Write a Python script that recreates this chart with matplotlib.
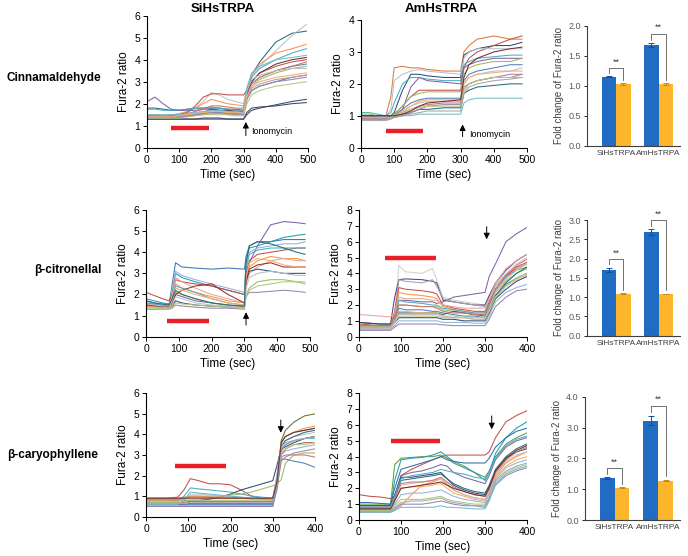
import numpy as np
import matplotlib.pyplot as plt

plt.rcParams['font.family'] = ['Liberation Sans', 'DejaVu Sans']
NARROW = ['Liberation Sans Narrow', 'Liberation Sans', 'DejaVu Sans']

W, H = 688, 556

# ---------------- trace data (Fura-2 ratio) ----------------
# Cinnamaldehyde / SiHsTRPA
t_cin_si = [0, 25, 50, 75, 100, 125, 150, 175, 200, 225, 250, 275, 300, 310, 325, 350, 400, 450, 495]
cin_si = [
    [1.8, 1.8, 1.75, 1.7, 1.7, 1.75, 1.8, 1.8, 1.8, 1.8, 1.75, 1.75, 1.7, 2.6, 3.3, 3.9, 4.8, 5.2, 5.3],
    [1.45, 1.45, 1.45, 1.45, 1.5, 1.6, 1.8, 2.1, 2.5, 2.4, 2.2, 2.1, 2.0, 2.7, 3.3, 3.7, 4.4, 5.1, 5.6],
    [1.5, 1.5, 1.5, 1.5, 1.55, 1.65, 1.8, 2.0, 2.2, 2.1, 2.0, 1.95, 1.9, 2.6, 3.3, 3.8, 4.3, 4.5, 4.7],
    [1.45, 1.45, 1.4, 1.45, 1.5, 1.6, 1.9, 2.3, 2.45, 2.45, 2.4, 2.4, 2.4, 2.6, 3.0, 3.4, 3.7, 3.9, 4.0],
    [1.75, 1.75, 1.7, 1.7, 1.7, 1.75, 1.8, 1.8, 1.85, 1.8, 1.75, 1.7, 1.7, 2.5, 3.2, 3.6, 4.0, 4.3, 4.5],
    [2.1, 2.3, 2.0, 1.75, 1.7, 1.7, 1.7, 1.75, 1.75, 1.7, 1.7, 1.65, 1.65, 2.2, 2.6, 2.8, 3.0, 3.2, 3.3],
    [1.4, 1.4, 1.4, 1.4, 1.45, 1.5, 1.55, 1.6, 1.65, 1.6, 1.6, 1.55, 1.55, 2.3, 2.9, 3.2, 3.5, 3.7, 3.8],
    [1.35, 1.35, 1.35, 1.35, 1.4, 1.45, 1.5, 1.55, 1.6, 1.55, 1.55, 1.5, 1.5, 2.2, 2.8, 3.1, 3.4, 3.6, 3.7],
    [1.35, 1.35, 1.35, 1.35, 1.4, 1.45, 1.5, 1.6, 1.75, 1.7, 1.7, 1.65, 1.6, 2.4, 3.0, 3.4, 3.8, 4.0, 4.1],
    [1.3, 1.3, 1.3, 1.3, 1.3, 1.3, 1.3, 1.3, 1.3, 1.3, 1.3, 1.3, 1.3, 1.5, 1.7, 1.8, 1.95, 2.1, 2.2],
    [1.3, 1.3, 1.3, 1.3, 1.3, 1.3, 1.3, 1.35, 1.35, 1.35, 1.3, 1.3, 1.3, 1.6, 1.8, 1.85, 1.9, 2.0, 2.05],
    [1.45, 1.45, 1.45, 1.45, 1.5, 1.55, 1.65, 1.75, 1.9, 1.9, 1.85, 1.8, 1.8, 2.4, 2.9, 3.2, 3.5, 3.7, 3.9],
    [1.4, 1.4, 1.4, 1.4, 1.45, 1.5, 1.55, 1.6, 1.65, 1.65, 1.6, 1.6, 1.6, 2.6, 3.1, 3.3, 3.5, 3.6, 3.6],
    [1.35, 1.35, 1.35, 1.35, 1.4, 1.45, 1.5, 1.5, 1.55, 1.55, 1.5, 1.5, 1.5, 2.3, 2.7, 2.9, 3.1, 3.2, 3.3],
    [1.35, 1.35, 1.35, 1.35, 1.35, 1.4, 1.45, 1.5, 1.5, 1.5, 1.5, 1.45, 1.45, 2.0, 2.4, 2.6, 2.8, 2.9, 3.0],
    [1.4, 1.4, 1.4, 1.4, 1.4, 1.45, 1.5, 1.55, 1.6, 1.6, 1.55, 1.55, 1.5, 2.2, 2.6, 2.8, 3.0, 3.1, 3.2],
    [1.5, 1.5, 1.5, 1.5, 1.5, 1.55, 1.6, 1.65, 1.7, 1.7, 1.65, 1.65, 1.6, 2.7, 3.4, 3.7, 4.0, 4.1, 4.2],
    [1.4, 1.4, 1.4, 1.4, 1.45, 1.5, 1.55, 1.6, 1.65, 1.65, 1.6, 1.6, 1.55, 2.3, 2.8, 3.0, 3.2, 3.3, 3.4],
]
cin_si_colors = ['#276A7C', '#B7C3CF', '#F79646', '#C0504D', '#4BACC6', '#8064A2', '#4F81BD', '#9BBB59',
                 '#772C2A', '#2C4D75', '#4D3B62', '#CD7371', '#BFBFBF', '#A5A5A5', '#AFC97A', '#9983B5',
                 '#6FBDD1', '#F9AB6B']

# Cinnamaldehyde / AmHsTRPA
t_cin_am = [0, 25, 50, 75, 90, 100, 125, 150, 175, 200, 250, 300, 310, 325, 350, 400, 450, 485]
cin_am = [
    [1.0, 1.0, 1.0, 1.0, 1.6, 2.5, 2.55, 2.5, 2.5, 2.45, 2.4, 2.4, 3.0, 3.2, 3.4, 3.5, 3.4, 3.4],
    [1.0, 1.0, 0.95, 0.95, 1.0, 1.1, 1.8, 2.3, 2.3, 2.25, 2.2, 2.2, 2.9, 3.0, 3.1, 3.2, 3.2, 3.3],
    [0.95, 0.95, 0.95, 0.95, 1.0, 1.05, 1.3, 1.6, 1.8, 1.8, 1.8, 1.8, 2.5, 2.8, 3.0, 3.2, 3.4, 3.5],
    [1.0, 1.0, 1.0, 1.0, 1.2, 2.1, 2.3, 2.4, 2.45, 2.4, 2.35, 2.3, 2.8, 3.0, 3.1, 3.1, 3.1, 3.1],
    [1.1, 1.1, 1.05, 1.0, 1.1, 1.4, 2.0, 2.2, 2.2, 2.15, 2.1, 2.1, 2.6, 2.7, 2.8, 2.85, 2.9, 2.9],
    [0.95, 0.95, 0.95, 0.95, 1.0, 1.0, 1.2, 1.9, 2.2, 2.1, 2.05, 2.0, 2.5, 2.6, 2.7, 2.8, 2.8, 2.8],
    [1.05, 1.05, 1.0, 1.0, 1.0, 1.05, 1.3, 1.6, 1.7, 1.75, 1.75, 1.75, 2.3, 2.5, 2.6, 2.7, 2.7, 2.8],
    [0.9, 0.9, 0.9, 0.9, 0.95, 1.0, 1.2, 1.4, 1.5, 1.55, 1.55, 1.55, 2.1, 2.3, 2.4, 2.5, 2.6, 2.6],
    [0.95, 0.95, 0.95, 0.95, 0.95, 1.0, 1.1, 1.3, 1.4, 1.45, 1.45, 1.45, 2.0, 2.2, 2.3, 2.4, 2.4, 2.5],
    [0.9, 0.9, 0.9, 0.9, 0.95, 1.0, 1.15, 1.3, 1.45, 1.5, 1.5, 1.5, 2.0, 2.2, 2.3, 2.35, 2.4, 2.4],
    [0.9, 0.9, 0.9, 0.9, 0.95, 1.0, 1.1, 1.2, 1.3, 1.35, 1.4, 1.4, 1.9, 2.0, 2.1, 2.2, 2.2, 2.3],
    [1.0, 1.0, 1.0, 1.0, 1.0, 1.0, 1.05, 1.1, 1.2, 1.2, 1.25, 1.25, 1.7, 1.8, 1.9, 1.95, 2.0, 2.0],
    [0.95, 0.95, 0.95, 0.95, 0.95, 0.95, 1.0, 1.0, 1.05, 1.05, 1.05, 1.05, 1.4, 1.5, 1.55, 1.55, 1.55, 1.55],
    [0.9, 0.9, 0.9, 0.9, 0.9, 0.95, 1.0, 1.1, 1.2, 1.3, 1.35, 1.35, 1.8, 2.0, 2.1, 2.2, 2.3, 2.3],
    [0.95, 0.95, 0.95, 0.95, 0.95, 1.0, 1.1, 1.2, 1.25, 1.3, 1.3, 1.3, 1.8, 2.0, 2.1, 2.2, 2.2, 2.2],
    [0.85, 0.85, 0.85, 0.85, 0.9, 0.95, 1.0, 1.05, 1.1, 1.15, 1.15, 1.15, 1.7, 1.9, 2.0, 2.1, 2.15, 2.2],
    [1.0, 1.0, 1.0, 1.0, 1.0, 1.0, 1.05, 1.15, 1.3, 1.4, 1.45, 1.5, 2.2, 2.6, 2.8, 3.0, 3.1, 3.15],
]
cin_am_colors = ['#E07B39', '#2C4D75', '#C0504D', '#B7C3CF', '#4BACC6', '#8064A2', '#9BBB59', '#4F81BD',
                 '#BFBFBF', '#F9AB6B', '#CD7371', '#276A7C', '#6FBDD1', '#9983B5', '#AFC97A', '#A5A5A5',
                 '#772C2A']

# beta-citronellal / SiHsTRPA
t_cit_si = [0, 25, 50, 70, 80, 90, 110, 150, 200, 250, 300, 305, 315, 340, 380, 420, 460, 485]
cit_si = [
    [1.7, 1.6, 1.5, 1.45, 2.5, 3.5, 3.3, 3.25, 3.2, 3.25, 3.2, 3.8, 4.3, 4.5, 4.5, 4.6, 4.6, 4.6],
    [1.5, 1.45, 1.4, 1.4, 1.6, 2.0, 1.9, 1.7, 1.6, 1.5, 1.45, 2.5, 3.5, 4.3, 5.3, 5.45, 5.4, 5.35],
    [1.8, 1.7, 1.6, 1.55, 2.2, 3.0, 2.8, 2.6, 2.4, 2.2, 2.0, 3.6, 4.2, 4.3, 4.5, 4.7, 4.8, 4.85],
    [1.6, 1.55, 1.5, 1.45, 2.3, 3.1, 2.9, 2.7, 2.5, 2.3, 2.1, 3.4, 4.0, 4.2, 4.3, 4.4, 4.4, 4.5],
    [2.1, 1.95, 1.8, 1.7, 2.0, 2.7, 2.6, 2.5, 2.4, 2.2, 2.0, 3.0, 3.6, 3.9, 4.0, 4.1, 4.2, 4.2],
    [1.5, 1.45, 1.4, 1.4, 1.8, 2.5, 2.3, 2.1, 1.9, 1.7, 1.6, 2.6, 3.3, 3.6, 3.8, 3.7, 3.7, 3.6],
    [1.55, 1.5, 1.45, 1.4, 1.9, 2.8, 2.6, 2.3, 2.0, 1.8, 1.6, 2.5, 3.0, 3.3, 3.6, 3.7, 3.6, 3.6],
    [1.4, 1.4, 1.35, 1.35, 1.5, 2.1, 2.0, 1.8, 1.6, 1.5, 1.4, 2.0, 2.3, 2.6, 2.7, 2.7, 2.6, 2.5],
    [1.45, 1.4, 1.4, 1.35, 1.45, 1.7, 1.6, 1.5, 1.45, 1.4, 1.4, 2.6, 3.1, 3.2, 3.1, 3.0, 3.0, 3.0],
    [1.5, 1.45, 1.4, 1.4, 1.6, 2.0, 2.2, 2.4, 2.5, 2.0, 1.6, 2.7, 3.2, 3.4, 3.5, 3.3, 3.3, 3.3],
    [1.3, 1.3, 1.3, 1.3, 1.35, 1.5, 1.45, 1.4, 1.35, 1.35, 1.3, 1.9, 2.1, 2.1, 2.15, 2.2, 2.15, 2.1],
    [1.6, 1.55, 1.5, 1.45, 1.8, 2.4, 2.3, 2.1, 1.8, 1.6, 1.5, 3.2, 3.9, 4.1, 4.2, 4.2, 4.2, 4.2],
    [1.4, 1.4, 1.35, 1.35, 1.5, 1.9, 1.8, 1.6, 1.5, 1.45, 1.4, 2.3, 2.8, 3.0, 3.1, 3.0, 2.9, 2.9],
    [1.35, 1.35, 1.3, 1.3, 1.4, 1.6, 1.55, 1.5, 1.45, 1.4, 1.35, 1.9, 2.2, 2.4, 2.5, 2.6, 2.6, 2.6],
    [1.45, 1.4, 1.4, 1.35, 1.7, 2.3, 2.2, 2.0, 1.8, 1.6, 1.5, 2.8, 3.5, 3.7, 3.6, 3.4, 3.3, 3.3],
    [1.7, 1.6, 1.55, 1.5, 1.8, 2.2, 2.0, 1.8, 1.6, 1.5, 1.45, 3.5, 4.3, 4.5, 4.4, 4.2, 4.0, 3.9],
]
cit_si_colors = ['#3A78B8', '#7F5FA8', '#1F9CB8', '#95B3D7', '#C0504D', '#F79646', '#E6A49B', '#9BBB59',
                 '#2C4D75', '#9B2D2A', '#9983B5', '#4BACC6', '#BFBFBF', '#AFC97A', '#F9AB6B', '#276A7C']

# beta-citronellal / AmHsTRPA
t_cit_am = [0, 25, 50, 75, 85, 95, 110, 150, 175, 185, 200, 225, 250, 275, 300, 310, 325, 350, 375, 400]
cit_am = [
    [0.6, 0.6, 0.6, 0.6, 1.5, 4.5, 4.1, 4.0, 4.3, 3.6, 2.5, 2.3, 2.2, 2.1, 2.0, 2.5, 3.3, 4.0, 4.6, 5.0],
    [0.9, 0.85, 0.8, 0.8, 2.5, 3.6, 3.65, 3.6, 3.5, 3.4, 2.3, 2.2, 2.1, 2.0, 2.0, 2.6, 3.4, 4.2, 4.8, 5.2],
    [0.7, 0.7, 0.7, 0.7, 1.2, 2.3, 2.3, 2.2, 2.2, 2.1, 2.2, 2.5, 2.6, 2.7, 2.8, 3.8, 4.6, 6.0, 6.5, 6.9],
    [0.6, 0.6, 0.6, 0.6, 1.4, 3.6, 3.5, 3.4, 3.6, 3.2, 2.4, 2.2, 2.1, 2.0, 1.9, 2.4, 3.2, 3.9, 4.3, 4.6],
    [0.8, 0.75, 0.7, 0.7, 1.6, 3.1, 3.0, 2.9, 2.8, 2.7, 2.0, 1.8, 1.7, 1.6, 1.6, 2.2, 3.0, 3.8, 4.4, 4.7],
    [0.7, 0.7, 0.65, 0.65, 1.4, 2.8, 2.7, 2.6, 2.5, 2.4, 1.9, 1.7, 1.6, 1.5, 1.5, 2.0, 2.9, 3.7, 4.3, 4.6],
    [1.4, 1.35, 1.3, 1.25, 1.5, 2.5, 2.4, 2.4, 2.3, 2.3, 2.0, 1.9, 1.8, 1.8, 1.8, 2.4, 3.4, 4.3, 4.8, 5.2],
    [0.6, 0.6, 0.6, 0.6, 1.2, 2.3, 2.2, 2.1, 2.0, 2.0, 1.8, 1.7, 1.6, 1.5, 1.5, 2.1, 3.0, 3.8, 4.2, 4.4],
    [0.6, 0.6, 0.6, 0.6, 1.1, 2.0, 2.0, 1.9, 1.9, 1.9, 1.7, 1.6, 1.5, 1.4, 1.4, 1.9, 2.8, 3.5, 4.0, 4.3],
    [0.5, 0.5, 0.5, 0.5, 1.0, 1.8, 1.7, 1.7, 1.6, 1.6, 1.5, 1.4, 1.3, 1.3, 1.2, 1.7, 2.6, 3.3, 3.7, 4.0],
    [0.5, 0.5, 0.5, 0.5, 0.9, 1.5, 1.5, 1.5, 1.5, 1.5, 1.4, 1.6, 1.5, 1.4, 1.3, 1.8, 2.6, 3.4, 4.0, 4.4],
    [0.5, 0.5, 0.5, 0.5, 0.9, 1.6, 1.6, 1.5, 1.5, 1.5, 1.3, 1.2, 1.2, 1.1, 1.1, 1.6, 2.5, 3.2, 3.6, 3.9],
    [0.9, 0.85, 0.8, 0.8, 0.9, 1.2, 1.2, 1.2, 1.2, 1.2, 1.1, 1.1, 1.0, 1.0, 1.0, 1.5, 2.4, 3.0, 3.5, 3.8],
    [0.5, 0.5, 0.5, 0.5, 0.7, 1.0, 1.0, 1.0, 1.0, 1.0, 0.9, 0.9, 0.9, 0.85, 0.85, 1.3, 2.2, 2.8, 3.1, 3.3],
    [0.4, 0.4, 0.4, 0.4, 0.6, 0.8, 0.8, 0.8, 0.8, 0.8, 0.75, 0.7, 0.7, 0.7, 0.7, 1.1, 1.9, 2.5, 2.9, 3.0],
    [0.6, 0.6, 0.6, 0.6, 1.0, 1.3, 1.3, 1.3, 1.3, 1.3, 1.2, 1.2, 1.2, 1.1, 1.1, 1.6, 2.5, 3.2, 3.7, 4.0],
    [0.5, 0.5, 0.5, 0.5, 0.9, 1.4, 1.4, 1.4, 1.4, 1.4, 1.3, 1.3, 1.2, 1.2, 1.2, 1.8, 2.8, 3.6, 4.2, 4.6],
    [0.7, 0.7, 0.7, 0.7, 1.3, 2.0, 2.0, 1.9, 1.9, 1.8, 1.6, 1.5, 1.5, 1.4, 1.4, 2.0, 3.0, 3.9, 4.5, 4.9],
]
cit_am_colors = ['#D0D0D0', '#5A3C8C', '#8064A2', '#A5A5A5', '#C0504D', '#F79646', '#E6A49B', '#4BACC6',
                 '#9BBB59', '#4F81BD', '#276A7C', '#F9AB6B', '#2C4D75', '#95B3D7', '#9983B5', '#AFC97A',
                 '#BFBFBF', '#CD7371']

# beta-caryophyllene / SiHsTRPA
t_car_si = [0, 25, 50, 75, 90, 105, 125, 150, 175, 200, 225, 250, 275, 300, 310, 320, 330, 350, 375, 400]
car_si = [
    [0.9, 0.9, 0.9, 0.95, 1.3, 1.85, 1.75, 1.6, 1.6, 1.55, 1.3, 1.0, 0.9, 0.85, 1.5, 3.0, 3.3, 3.5, 3.6, 3.6],
    [0.7, 0.7, 0.7, 0.75, 1.0, 1.4, 1.35, 1.3, 1.25, 1.2, 1.1, 1.0, 0.95, 0.9, 2.0, 3.6, 3.9, 4.1, 4.2, 4.3],
    [0.8, 0.8, 0.8, 0.8, 0.8, 0.8, 0.8, 0.85, 0.95, 1.1, 1.3, 1.45, 1.6, 1.75, 2.5, 3.3, 3.4, 3.6, 3.8, 3.9],
    [0.9, 0.9, 0.9, 0.9, 0.95, 1.0, 1.0, 1.0, 1.0, 1.05, 1.1, 1.2, 1.35, 1.5, 1.6, 1.8, 2.6, 3.0, 3.1, 3.1],
    [0.7, 0.7, 0.7, 0.7, 0.7, 0.75, 0.75, 0.75, 0.75, 0.75, 0.75, 0.75, 0.75, 0.75, 1.5, 3.7, 4.2, 4.6, 4.9, 5.0],
    [0.6, 0.6, 0.6, 0.6, 0.6, 0.6, 0.6, 0.6, 0.6, 0.6, 0.6, 0.6, 0.6, 0.6, 1.5, 2.8, 2.8, 2.7, 2.6, 2.4],
    [0.8, 0.8, 0.8, 0.8, 0.9, 1.0, 1.0, 0.95, 0.9, 0.9, 0.9, 0.85, 0.85, 0.85, 1.8, 3.6, 3.9, 4.1, 4.3, 4.4],
    [0.6, 0.6, 0.6, 0.6, 0.6, 0.65, 0.65, 0.65, 0.65, 0.65, 0.65, 0.65, 0.65, 0.65, 1.6, 3.2, 3.5, 3.7, 3.8, 3.9],
    [0.75, 0.75, 0.75, 0.75, 0.85, 1.1, 1.1, 1.05, 1.0, 1.0, 0.95, 0.9, 0.9, 0.85, 2.0, 3.5, 3.7, 3.9, 4.0, 4.1],
    [0.85, 0.85, 0.85, 0.85, 0.9, 0.95, 0.95, 0.95, 0.95, 0.95, 0.9, 0.9, 0.9, 0.9, 1.6, 2.9, 3.0, 3.0, 3.0, 2.9],
    [0.5, 0.5, 0.5, 0.5, 0.5, 0.5, 0.5, 0.5, 0.5, 0.5, 0.5, 0.5, 0.5, 0.5, 1.7, 3.4, 3.7, 3.9, 4.1, 4.2],
    [0.55, 0.55, 0.55, 0.55, 0.55, 0.55, 0.55, 0.55, 0.55, 0.55, 0.55, 0.55, 0.55, 0.55, 1.4, 3.0, 3.2, 3.3, 3.4, 3.5],
    [0.6, 0.6, 0.6, 0.6, 0.8, 1.2, 1.15, 1.1, 1.05, 1.0, 0.95, 0.9, 0.85, 0.8, 1.8, 3.4, 3.6, 3.7, 3.8, 3.8],
    [0.7, 0.7, 0.7, 0.7, 0.75, 0.8, 0.8, 0.8, 0.8, 0.8, 0.8, 0.8, 0.8, 0.8, 1.6, 3.1, 3.3, 3.5, 3.5, 3.6],
    [0.65, 0.65, 0.65, 0.65, 0.65, 0.7, 0.7, 0.7, 0.7, 0.7, 0.7, 0.7, 0.7, 0.7, 1.7, 3.3, 3.5, 3.7, 3.8, 3.9],
    [0.5, 0.5, 0.5, 0.5, 0.5, 0.5, 0.5, 0.5, 0.5, 0.5, 0.5, 0.5, 0.5, 0.5, 1.3, 2.7, 2.9, 3.1, 3.2, 3.3],
    [0.9, 0.9, 0.9, 0.9, 0.9, 0.9, 0.9, 0.9, 0.9, 0.9, 0.9, 0.9, 0.9, 0.9, 1.7, 3.6, 3.9, 4.1, 4.2, 4.3],
]
car_si_colors = ['#C0504D', '#4BACC6', '#2C4D75', '#9BBB59', '#5F7530', '#4F81BD', '#F79646', '#8064A2',
                 '#BFBFBF', '#CD7371', '#276A7C', '#95B3D7', '#6FBDD1', '#AFC97A', '#A5A5A5', '#9983B5',
                 '#772C2A']

# beta-caryophyllene / AmHsTRPA
t_car_am = [0, 25, 50, 75, 85, 100, 125, 150, 175, 195, 210, 225, 250, 275, 300, 310, 325, 350, 375, 400]
car_am = [
    [1.6, 1.5, 1.45, 1.35, 1.5, 2.8, 3.2, 3.5, 3.8, 4.0, 4.1, 4.1, 4.1, 4.1, 4.1, 4.3, 5.2, 6.2, 6.6, 6.9],
    [1.0, 1.0, 1.0, 1.0, 3.5, 3.9, 3.95, 4.0, 4.0, 4.1, 3.9, 3.6, 3.3, 3.0, 2.7, 3.1, 4.0, 4.8, 5.2, 5.5],
    [0.9, 0.9, 0.9, 0.9, 2.5, 3.8, 3.9, 3.95, 4.1, 4.3, 4.0, 3.7, 3.4, 3.0, 2.5, 3.0, 4.2, 5.2, 5.8, 6.2],
    [1.1, 1.1, 1.05, 1.0, 2.0, 3.2, 3.4, 3.6, 3.8, 4.0, 3.8, 3.7, 3.6, 3.6, 3.6, 3.9, 4.6, 5.2, 5.6, 5.8],
    [0.8, 0.8, 0.8, 0.8, 1.5, 2.8, 3.0, 3.1, 3.3, 3.5, 3.4, 3.0, 2.7, 2.5, 2.3, 2.8, 3.8, 4.6, 5.0, 5.2],
    [0.5, 0.5, 0.5, 0.5, 0.6, 0.9, 1.6, 2.2, 2.4, 2.6, 2.2, 1.9, 1.6, 1.4, 1.3, 1.8, 2.8, 3.6, 4.0, 4.3],
    [0.9, 0.9, 0.9, 0.9, 1.6, 2.7, 2.7, 2.8, 2.9, 3.0, 2.6, 2.2, 1.9, 1.7, 1.6, 2.1, 3.1, 3.9, 4.3, 4.5],
    [0.6, 0.6, 0.6, 0.6, 1.2, 2.0, 2.1, 2.1, 2.2, 2.3, 2.0, 1.7, 1.5, 1.3, 1.2, 1.7, 2.7, 3.4, 3.8, 4.0],
    [0.7, 0.7, 0.7, 0.7, 1.3, 2.2, 2.3, 2.4, 2.5, 2.6, 2.3, 1.9, 1.6, 1.4, 1.3, 1.8, 2.9, 3.7, 4.1, 4.3],
    [0.6, 0.6, 0.6, 0.6, 1.0, 1.6, 1.7, 1.7, 1.8, 1.9, 1.7, 1.5, 1.3, 1.2, 1.1, 1.6, 2.6, 3.3, 3.6, 3.8],
    [0.7, 0.7, 0.7, 0.7, 1.4, 2.5, 2.6, 2.7, 2.8, 2.9, 2.6, 2.3, 2.0, 1.8, 1.7, 2.2, 3.2, 4.0, 4.5, 4.8],
    [0.6, 0.6, 0.6, 0.6, 0.9, 1.3, 1.3, 1.3, 1.4, 1.5, 1.3, 1.2, 1.1, 1.0, 1.0, 1.4, 2.4, 3.0, 3.3, 3.5],
    [0.5, 0.5, 0.5, 0.5, 0.7, 1.0, 1.0, 1.0, 1.1, 1.2, 1.1, 1.0, 0.9, 0.9, 0.8, 1.3, 2.2, 2.8, 3.1, 3.3],
    [0.8, 0.8, 0.8, 0.8, 1.4, 2.3, 2.4, 2.4, 2.5, 2.7, 2.4, 2.1, 1.8, 1.6, 1.5, 2.0, 3.0, 3.8, 4.3, 4.6],
    [0.55, 0.55, 0.55, 0.55, 0.8, 1.1, 1.2, 1.2, 1.3, 1.4, 1.2, 1.1, 1.0, 0.9, 0.9, 1.4, 2.5, 3.1, 3.4, 3.6],
    [0.7, 0.7, 0.7, 0.7, 1.2, 2.0, 2.1, 2.2, 2.3, 2.4, 2.2, 2.0, 1.8, 1.6, 1.5, 2.0, 3.1, 3.9, 4.4, 4.7],
    [0.5, 0.5, 0.5, 0.5, 0.6, 0.8, 0.8, 0.8, 0.8, 0.9, 0.8, 0.8, 0.75, 0.7, 0.7, 1.2, 2.3, 2.9, 3.2, 3.4],
    [0.8, 0.8, 0.8, 0.8, 1.5, 2.6, 2.8, 2.9, 3.0, 3.2, 3.1, 3.0, 2.9, 2.7, 2.6, 3.0, 3.9, 4.7, 5.1, 5.3],
]
car_am_colors = ['#C0504D', '#5F9E3C', '#1F9CB8', '#2C6FA8', '#8064A2', '#F79646', '#2C4D75', '#F9AB6B',
                 '#BFBFBF', '#95B3D7', '#276A7C', '#AFC97A', '#9983B5', '#CD7371', '#A5A5A5', '#772C2A',
                 '#6FBDD1', '#4BACC6']

# ---------------- bar data (fold change of Fura-2 ratio) ----------------
groups = ['SiHsTRPA', 'AmHsTRPA']
cin_agonist = [1.15, 1.68]
cin_agonist_err = [0.01, 0.03]
cin_control = [1.03, 1.03]
cin_control_err = [0.01, 0.01]
cin_bracket = [1.29, 1.87]

cit_agonist = [1.70, 2.68]
cit_agonist_err = [0.06, 0.08]
cit_control = [1.09, 1.08]
cit_control_err = [0.01, 0.01]
cit_bracket = [1.98, 3.00]

car_agonist = [1.35, 3.22]
car_agonist_err = [0.03, 0.15]
car_control = [1.05, 1.28]
car_control_err = [0.01, 0.03]
car_bracket = [1.68, 3.70]


def px_rect(x0, x1, ytop, ybot):
    return [x0 / W, 1 - ybot / H, (x1 - x0) / W, (ybot - ytop) / H]


def trace_panel(rect, t, traces, colors, xmax, ymax, stim, arrow, iono=None):
    ax = fig.add_axes(rect)
    for vals, c in zip(traces, colors):
        ax.plot(t, vals, color=c, lw=0.75)
    # stimulus bar
    ax.plot(stim[:2], [stim[2], stim[2]], color='#E8202A', lw=3.2, solid_capstyle='butt', zorder=5)
    # ionomycin arrow
    ax.annotate('', xy=(arrow[0], arrow[1]), xytext=(arrow[0], arrow[2]),
                arrowprops=dict(arrowstyle='-|>', color='black', lw=0.7, mutation_scale=9,
                                shrinkA=0, shrinkB=0), zorder=6)
    if iono is not None:
        ax.text(iono[0], iono[1], 'Ionomycin', fontsize=6.5, va='center', ha='left')
    ax.set_xlim(0, xmax)
    ax.set_ylim(0, ymax)
    ax.set_xticks(np.arange(0, xmax + 1, 100))
    ax.set_yticks(np.arange(0, ymax + 1, 1))
    ax.spines['top'].set_visible(False)
    ax.spines['right'].set_visible(False)
    ax.tick_params(labelsize=7.5, length=3, width=0.7, pad=2)
    for lab in ax.get_xticklabels() + ax.get_yticklabels():
        lab.set_family(NARROW)
    ax.set_xlabel('Time (sec)', fontsize=8.5, labelpad=3)
    ax.set_ylabel('Fura-2 ratio', fontsize=8.5, labelpad=3)
    return ax


def bar_panel(rect, agonist, agonist_err, control, control_err, bracket, ymax, ystep):
    ax = fig.add_axes(rect)
    x = np.arange(len(groups))
    w = 0.34
    ax.bar(x - w / 2, agonist, w, yerr=agonist_err, color='#1F6CC2',
           error_kw=dict(ecolor='#1A4E8A', capsize=2, elinewidth=0.7, capthick=0.7))
    ax.bar(x + w / 2, control, w, yerr=control_err, color='#FDB52B',
           error_kw=dict(ecolor='#C98A10', capsize=2, elinewidth=0.7, capthick=0.7))
    gap = ymax * 0.03
    for i in range(len(groups)):
        top = bracket[i]
        left_low = agonist[i] + agonist_err[i] + gap
        right_low = control[i] + control_err[i] + gap
        ax.plot([x[i] - w / 2, x[i] - w / 2, x[i] + w / 2, x[i] + w / 2],
                [left_low, top, top, right_low], color='#595959', lw=0.6, clip_on=False)
        ax.text(x[i], top + ymax * 0.015, '**', ha='center', va='bottom', fontsize=6.5, color='#404040')
    ax.set_xlim(-0.68, 1.5)
    ax.set_ylim(0, ymax)
    ax.set_yticks(np.arange(0, ymax + 0.001, ystep))
    ax.yaxis.set_major_formatter(plt.FormatStrFormatter('%.1f'))
    ax.set_xticks(x)
    ax.set_xticklabels(groups)
    ax.tick_params(axis='x', length=0, labelsize=6, labelcolor='#404040', pad=3)
    ax.tick_params(axis='y', length=2.5, width=0.6, labelsize=6.5, labelcolor='#595959', pad=2)
    for lab in ax.get_xticklabels() + ax.get_yticklabels():
        lab.set_family(NARROW)
    ax.spines['top'].set_visible(False)
    ax.spines['right'].set_visible(False)
    ax.spines['left'].set_color('#404040')
    ax.spines['bottom'].set_color('#404040')
    ax.set_ylabel('Fold change of Fura-2 ratio', fontsize=7, color='#404040', labelpad=3)
    return ax


fig = plt.figure(figsize=(W / 100, H / 100), dpi=100)

# column titles and row labels
fig.text(223 / W, 1 - 9 / H, 'SiHsTRPA', ha='center', va='center', fontsize=9.5, fontweight='bold')
fig.text(441 / W, 1 - 9 / H, 'AmHsTRPA', ha='center', va='center', fontsize=9.5, fontweight='bold')
fig.text(101 / W, 1 - 78 / H, 'Cinnamaldehyde', ha='right', va='center', fontsize=8.5, fontweight='bold')
fig.text(101 / W, 1 - 270 / H, 'β-citronellal', ha='right', va='center', fontsize=8.5, fontweight='bold')
fig.text(98 / W, 1 - 455 / H, 'β-caryophyllene', ha='right', va='center', fontsize=8.5, fontweight='bold')

# row 1: cinnamaldehyde
trace_panel(px_rect(147, 308, 15.7, 147.7), t_cin_si, cin_si, cin_si_colors, 500, 6,
            stim=(75, 192, 0.91), arrow=(307, 1.17, 0.55), iono=(322, 0.72))
trace_panel(px_rect(361, 527, 20, 147.7), t_cin_am, cin_am, cin_am_colors, 500, 4,
            stim=(74, 188, 0.53), arrow=(306, 0.73, 0.35), iono=(327, 0.42))
bar_panel(px_rect(587, 680, 25.7, 146), cin_agonist, cin_agonist_err, cin_control, cin_control_err,
          cin_bracket, 2.0, 0.5)

# row 2: beta-citronellal
trace_panel(px_rect(146, 310, 210, 336.7), t_cit_si, cit_si, cit_si_colors, 500, 6,
            stim=(65, 192, 0.74), arrow=(305, 1.16, 0.55))
trace_panel(px_rect(359, 527, 210, 336.7), t_cit_am, cit_am, cit_am_colors, 400, 8,
            stim=(63, 183, 5.0), arrow=(304, 6.15, 6.95))
bar_panel(px_rect(587, 680, 220, 335.7), cit_agonist, cit_agonist_err, cit_control, cit_control_err,
          cit_bracket, 3.0, 0.5)

# row 3: beta-caryophyllene
trace_panel(px_rect(146, 315, 393.3, 516.7), t_car_si, car_si, car_si_colors, 400, 6,
            stim=(69, 189, 2.48), arrow=(319, 4.08, 4.7))
trace_panel(px_rect(359, 527, 393.3, 520), t_car_am, car_am, car_am_colors, 400, 8,
            stim=(75, 194, 4.99), arrow=(316, 5.73, 6.57))
bar_panel(px_rect(585, 680, 396.7, 520), car_agonist, car_agonist_err, car_control, car_control_err,
          car_bracket, 4.0, 1.0)

fig.savefig('out.png', dpi=100)
